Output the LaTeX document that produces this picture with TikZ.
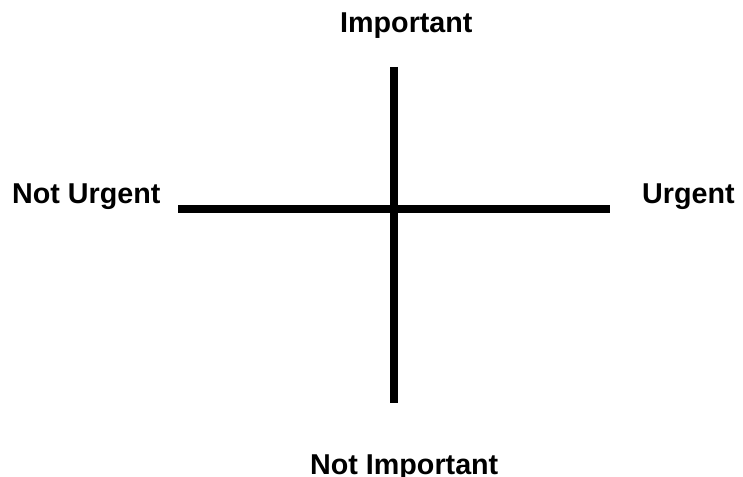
\documentclass[tikz,border=0pt]{standalone}
\usepackage{fontspec}
\setmainfont{Liberation Sans}
\begin{document}
\begin{tikzpicture}[x=1pt,y=-1pt,
  axislabel/.style={inner sep=0pt,anchor=base west,font=\fontsize{28.7}{34}\selectfont\bfseries},
  axisline/.style={line width=7.5pt,line cap=butt,black}]
\useasboundingbox (0,0) rectangle (743,476);
\coordinate (top) at (394,67);
\coordinate (bottom) at (394,403);
\coordinate (left) at (178,209);
\coordinate (right) at (610,209);
\draw[axisline] (top) -- (bottom);
\draw[axisline] (left) -- (right);
\node[axislabel] (imp) at (340,33) {Important};
\node[axislabel] (nurg) at (12,203) {Not Urgent};
\node[axislabel] (urg) at (642,203) {Urgent};
\node[axislabel] (nimp) at (310,474.5) {Not Important};
\end{tikzpicture}
\end{document}
